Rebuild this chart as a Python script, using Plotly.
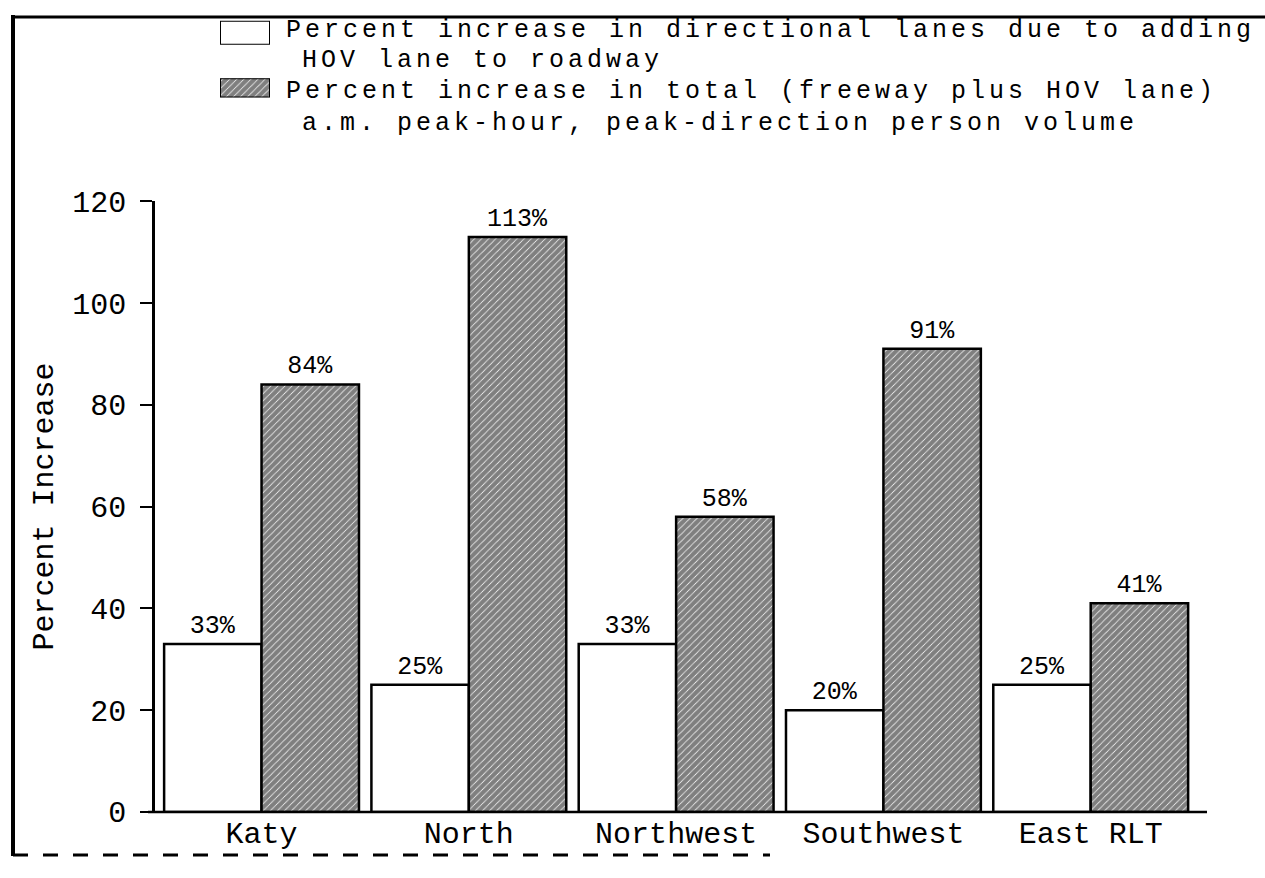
import json
import plotly.graph_objects as go

# Houston HOV corridors: lane increase vs. a.m. peak person-volume increase
corridors = ["Katy", "North", "Northwest", "Southwest", "East RLT"]
lane_increase = [33, 25, 33, 20, 25]
volume_increase = [84, 113, 58, 91, 41]
y_ticks = [0, 20, 40, 60, 80, 100, 120]

legend_lines = [
    "Percent increase in directional lanes due to adding",
    "HOV lane to roadway",
    "Percent increase in total (freeway plus HOV lane)",
    "a.m. peak-hour, peak-direction person volume",
]

W, H = 1265, 878
FONT = "Liberation Mono"

# plot-area edges in pixels
PLOT_L, PLOT_R = 155, 1207
PLOT_TOP, PLOT_BOT = 194, 830


def fx(px):
    return px / W


def fy(py):
    return 1 - py / H


HATCH = dict(shape="/", fgcolor="black", bgcolor="white", size=5, solidity=0.85)

fig = go.Figure()

fig.add_trace(go.Bar(
    x=corridors, y=lane_increase, name=legend_lines[0],
    marker=dict(color="white", line=dict(color="black", width=2.5)),
    texttemplate="%{y}%", textposition="outside", cliponaxis=False,
    textfont=dict(family=FONT, size=25, color="black"),
))
fig.add_trace(go.Bar(
    x=corridors, y=volume_increase, name=legend_lines[2],
    marker=dict(color="white", pattern=HATCH, line=dict(color="black", width=2.5)),
    texttemplate="%{y}%", textposition="outside", cliponaxis=False,
    textfont=dict(family=FONT, size=25, color="black"),
))

# legend swatches drawn as single bars on their own small axes
fig.add_trace(go.Bar(
    x=[0], y=[1], width=[1], xaxis="x2", yaxis="y2", showlegend=False,
    marker=dict(color="white", line=dict(color="black", width=2)),
    hoverinfo="skip",
))
fig.add_trace(go.Bar(
    x=[0], y=[1], width=[1], xaxis="x3", yaxis="y3", showlegend=False,
    marker=dict(color="white", pattern=HATCH, line=dict(color="black", width=2)),
    hoverinfo="skip",
))

swatch_axis = dict(range=[-0.5, 0.5], visible=False, fixedrange=True)
swatch_yaxis = dict(range=[0, 1], visible=False, fixedrange=True)

fig.update_layout(
    width=W, height=H,
    margin=dict(l=0, r=0, t=0, b=0),
    paper_bgcolor="white", plot_bgcolor="white",
    showlegend=False,
    barmode="group", bargap=0.06, bargroupgap=0,
    font=dict(family=FONT, color="black"),
    xaxis=dict(
        domain=[fx(PLOT_L), fx(PLOT_R)], type="category",
        range=[-0.514, 4.561], showline=False, showgrid=False,
        ticks="", tickfont=dict(size=30), zeroline=False,
    ),
    yaxis=dict(
        domain=[fy(PLOT_BOT), fy(PLOT_TOP)], range=[0, 120],
        tickvals=y_ticks, ticks="outside", ticklen=12, tickwidth=2,
        tickcolor="black", showline=True, linewidth=2.5, linecolor="black",
        showgrid=False, zeroline=False, tickfont=dict(size=30),
        ticklabelstandoff=8,
    ),
    xaxis2=dict(domain=[fx(220), fx(270)], anchor="y2", **swatch_axis),
    yaxis2=dict(domain=[fy(31), fy(6)], anchor="x2", **swatch_yaxis),
    xaxis3=dict(domain=[fx(220), fx(270)], anchor="y3", **swatch_axis),
    yaxis3=dict(domain=[fy(86), fy(66)], anchor="x3", **swatch_yaxis),
)

shapes = [
    # x-axis baseline, extending slightly left of the y-axis
    dict(type="line", xref="paper", yref="paper", x0=fx(148), x1=fx(PLOT_R),
         y0=fy(PLOT_BOT), y1=fy(PLOT_BOT), line=dict(color="black", width=2.5)),
    # page frame
    dict(type="line", xref="paper", yref="paper", x0=fx(13), x1=fx(13),
         y0=fy(0), y1=fy(876), line=dict(color="black", width=4)),
    dict(type="line", xref="paper", yref="paper", x0=fx(11), x1=fx(1265),
         y0=fy(2), y1=fy(2), line=dict(color="black", width=3)),
    dict(type="line", xref="paper", yref="paper", x0=fx(13), x1=fx(770),
         y0=fy(875), y1=fy(875), line=dict(color="black", width=3, dash="longdash")),
]
fig.update_layout(shapes=shapes)

annotations = [
    dict(text="Percent Increase", x=fx(45), y=fy((PLOT_TOP + PLOT_BOT) / 2),
         textangle=-90, xanchor="center", font=dict(size=30)),
]
legend_pos = [(284, 16), (300, 47), (284, 80), (300, 113)]
for line, (px, py) in zip(legend_lines, legend_pos):
    annotations.append(dict(text=line, x=fx(px), y=fy(py), xanchor="left",
                            align="left", font=dict(size=25)))
for a in annotations:
    a.update(xref="paper", yref="paper", showarrow=False, yanchor="middle")
fig.update_layout(annotations=annotations)

# widen the letter spacing of the legend lines (typewriter-style spacing)
spacing_js = """
var gd = document.getElementById('{plot_id}');
var wide = %s;
gd.querySelectorAll('text.annotation-text').forEach(function (t) {
    if (wide.indexOf(t.textContent) >= 0) {
        t.style.letterSpacing = '4px';
    }
});
""" % json.dumps(legend_lines)

fig.write_html("out.html", post_script=spacing_js)
